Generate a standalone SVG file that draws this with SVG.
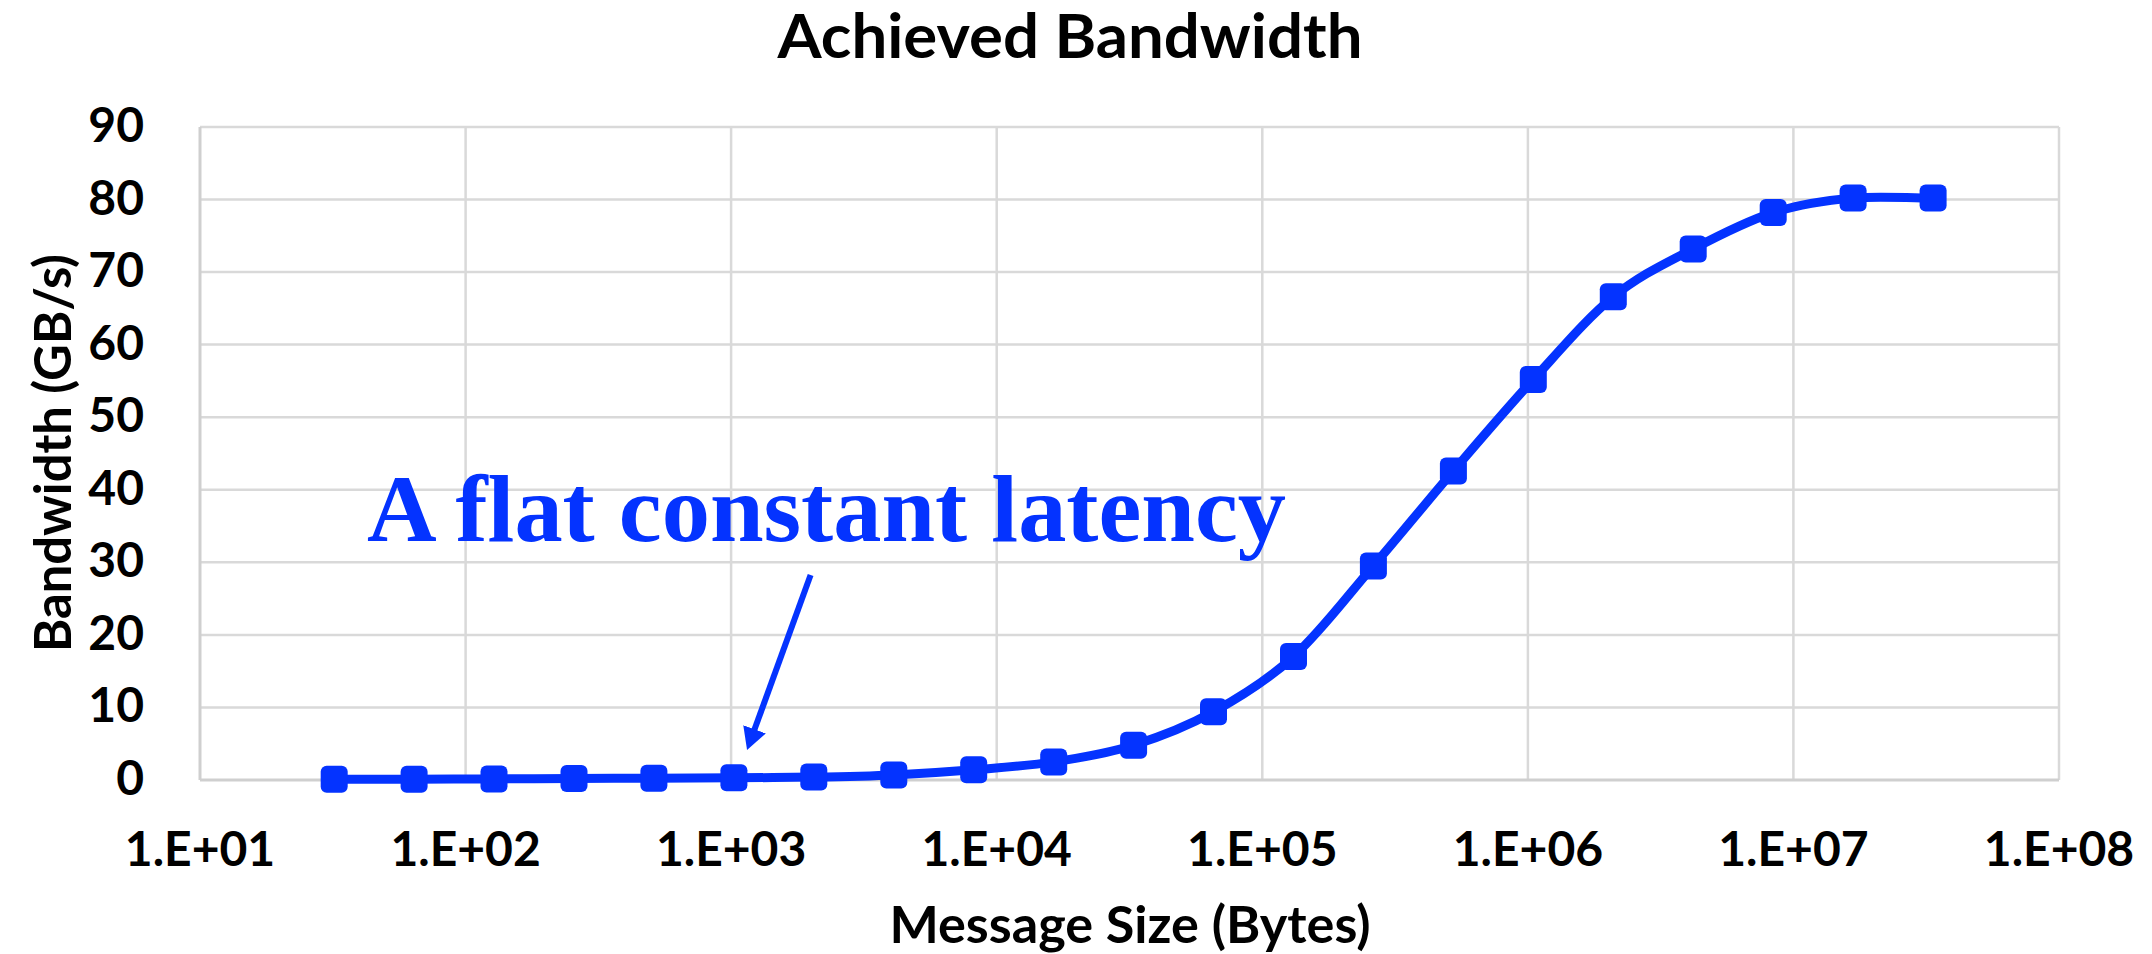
<svg xmlns="http://www.w3.org/2000/svg" width="2152" height="954" viewBox="0 0 2152 954">
  <style>
    .grid { stroke: #d9d9d9; stroke-width: 2.5; fill: none; }
    .axis { stroke: #cfcfcf; stroke-width: 3; fill: none; }
    .tick { font-family: Lato, "Liberation Sans", Arial, sans-serif; font-weight: bold; font-size: 48px; fill: #000; }
    .ytick { text-anchor: end; }
    .xtick { text-anchor: middle; }
    .title { font-family: Lato, "Liberation Sans", Arial, sans-serif; font-weight: bold; font-size: 62px; fill: #000; text-anchor: middle; }
    .axtitle { font-family: Lato, "Liberation Sans", Arial, sans-serif; font-weight: bold; font-size: 51px; fill: #000; text-anchor: middle; }
    .series { stroke: #0433FF; stroke-width: 9; fill: none; stroke-linejoin: round; }
    .marker { fill: #0433FF; }
    .note { font-family: "Liberation Serif", "Times New Roman", serif; font-weight: bold; font-size: 96px; fill: #0433FF; }
    .arrow { stroke: #0433FF; stroke-width: 6; fill: none; }
  </style>
  <defs>
    <rect id="m" x="-13.5" y="-13.5" width="27" height="27" rx="6" ry="6" class="marker"/>
    <marker id="ah" markerUnits="userSpaceOnUse" viewBox="0 0 22 24" markerWidth="22" markerHeight="24" refX="4" refY="12" orient="auto">
      <path d="M0,0 L22,12 L0,24 Z" fill="#0433FF"/>
    </marker>
  </defs>

  <rect x="0" y="0" width="2152" height="954" fill="#ffffff"/>

  <g id="title">
    <text class="title" x="1070" y="58" textLength="585" lengthAdjust="spacingAndGlyphs">Achieved Bandwidth</text>
  </g>

  <g id="gridlines">
    <line class="grid" x1="200" y1="127" x2="2059" y2="127"/>
    <line class="grid" x1="200" y1="199.5" x2="2059" y2="199.5"/>
    <line class="grid" x1="200" y1="272.1" x2="2059" y2="272.1"/>
    <line class="grid" x1="200" y1="344.6" x2="2059" y2="344.6"/>
    <line class="grid" x1="200" y1="417.2" x2="2059" y2="417.2"/>
    <line class="grid" x1="200" y1="489.8" x2="2059" y2="489.8"/>
    <line class="grid" x1="200" y1="562.3" x2="2059" y2="562.3"/>
    <line class="grid" x1="200" y1="634.9" x2="2059" y2="634.9"/>
    <line class="grid" x1="200" y1="707.4" x2="2059" y2="707.4"/>
    <line class="grid" x1="465.6" y1="127" x2="465.6" y2="780"/>
    <line class="grid" x1="731.1" y1="127" x2="731.1" y2="780"/>
    <line class="grid" x1="996.7" y1="127" x2="996.7" y2="780"/>
    <line class="grid" x1="1262.3" y1="127" x2="1262.3" y2="780"/>
    <line class="grid" x1="1527.9" y1="127" x2="1527.9" y2="780"/>
    <line class="grid" x1="1793.4" y1="127" x2="1793.4" y2="780"/>
    <line class="grid" x1="2059" y1="127" x2="2059" y2="780"/>
    <line class="axis" x1="200" y1="127" x2="200" y2="780"/>
    <line class="axis" x1="200" y1="780" x2="2059" y2="780"/>
  </g>

  <g id="y-ticks">
    <text class="tick ytick" x="144" y="142">90</text>
    <text class="tick ytick" x="144" y="214.5">80</text>
    <text class="tick ytick" x="144" y="287.1">70</text>
    <text class="tick ytick" x="144" y="359.6">60</text>
    <text class="tick ytick" x="144" y="432.2">50</text>
    <text class="tick ytick" x="144" y="504.8">40</text>
    <text class="tick ytick" x="144" y="577.3">30</text>
    <text class="tick ytick" x="144" y="649.9">20</text>
    <text class="tick ytick" x="144" y="722.4">10</text>
    <text class="tick ytick" x="144" y="795">0</text>
  </g>

  <g id="x-ticks">
    <text class="tick xtick" x="200" y="866">1.E+01</text>
    <text class="tick xtick" x="465.6" y="866">1.E+02</text>
    <text class="tick xtick" x="731.1" y="866">1.E+03</text>
    <text class="tick xtick" x="996.7" y="866">1.E+04</text>
    <text class="tick xtick" x="1262.3" y="866">1.E+05</text>
    <text class="tick xtick" x="1527.9" y="866">1.E+06</text>
    <text class="tick xtick" x="1793.4" y="866">1.E+07</text>
    <text class="tick xtick" x="2059" y="866">1.E+08</text>
  </g>

  <g id="axis-titles">
    <text class="axtitle" x="1130" y="943" textLength="481" lengthAdjust="spacingAndGlyphs">Message Size (Bytes)</text>
    <text class="axtitle" transform="translate(71,453) rotate(-90)" x="0" y="0" textLength="398" lengthAdjust="spacingAndGlyphs">Bandwidth (GB/s)</text>
  </g>

  <g id="series">
    <path class="series" d="M334.2,779.3
      C360.85,779.3 387.45,779.37 414.1,779.3
      C440.75,779.23 467.35,779.03 494.0,778.9
      C520.65,778.77 547.35,778.62 574.0,778.5
      C600.65,778.38 627.25,778.32 653.9,778.2
      C680.55,778.08 707.25,777.98 733.9,777.8
      C760.55,777.62 787.15,777.58 813.8,777.1
      C840.45,776.62 867.15,776.12 893.8,774.9
      C920.45,773.68 947.05,771.97 973.7,769.8
      C1000.35,767.63 1027.05,766.0 1053.7,761.9
      C1080.35,757.8 1106.95,753.55 1133.6,745.2
      C1160.25,736.85 1186.85,726.57 1213.5,711.8
      C1240.15,697.03 1266.85,680.92 1293.5,656.6
      C1320.15,632.28 1346.75,596.85 1373.4,565.9
      C1400.05,534.95 1426.75,501.97 1453.4,470.9
      C1480.05,439.83 1506.65,408.52 1533.3,379.5
      C1559.95,350.48 1586.65,318.57 1613.3,296.8
      C1639.95,275.03 1666.55,262.93 1693.2,248.9
      C1719.85,234.87 1746.55,221.07 1773.2,212.6
      C1799.85,204.13 1826.45,200.52 1853.1,198.1
      C1879.75,195.68 1906.45,198.1 1933.1,198.1"/>
    <use href="#m" x="334.2" y="779.3"/>
    <use href="#m" x="414.1" y="779.3"/>
    <use href="#m" x="494.0" y="778.9"/>
    <use href="#m" x="574.0" y="778.5"/>
    <use href="#m" x="653.9" y="778.2"/>
    <use href="#m" x="733.9" y="777.8"/>
    <use href="#m" x="813.8" y="777.1"/>
    <use href="#m" x="893.8" y="774.9"/>
    <use href="#m" x="973.7" y="769.8"/>
    <use href="#m" x="1053.7" y="761.9"/>
    <use href="#m" x="1133.6" y="745.2"/>
    <use href="#m" x="1213.5" y="711.8"/>
    <use href="#m" x="1293.5" y="656.6"/>
    <use href="#m" x="1373.4" y="565.9"/>
    <use href="#m" x="1453.4" y="470.9"/>
    <use href="#m" x="1533.3" y="379.5"/>
    <use href="#m" x="1613.3" y="296.8"/>
    <use href="#m" x="1693.2" y="248.9"/>
    <use href="#m" x="1773.2" y="212.6"/>
    <use href="#m" x="1853.1" y="198.1"/>
    <use href="#m" x="1933.1" y="198.1"/>
  </g>

  <g id="annotation">
    <text class="note" x="367" y="541" textLength="919" lengthAdjust="spacingAndGlyphs">A flat constant latency</text>
  </g>

  <g id="connectors">
    <line class="arrow" x1="810.6" y1="575" x2="753.2" y2="733.1" marker-end="url(#ah)"/>
  </g>
</svg>
